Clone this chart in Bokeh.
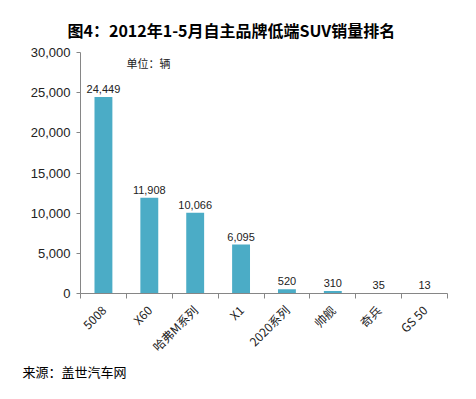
import math
from bokeh.plotting import figure
from bokeh.models import (ColumnDataSource, Range1d, FixedTicker, NumeralTickFormatter,
                          Label, Title)
from bokeh.core.properties import value
from bokeh.embed import file_html
from bokeh.resources import INLINE

categories = ["5008", "X60", "哈弗M系列", "X1", "2020系列", "帅舰", "奇兵", "GS 50"]
sales = [24449, 11908, 10066, 6095, 520, 310, 35, 13]
y_ticks = [0, 5000, 10000, 15000, 20000, 25000, 30000]

title_text = "图4：2012年1-5月自主品牌低端SUV销量排名"
unit_text = "单位：辆"
source_text = "来源：盖世汽车网"

CJK = "Noto Sans CJK SC"
BAR = "#4BACC6"
AXIS = "#868686"
TXT = "#222222"

centers = [i + 0.5 for i in range(len(categories))]
bounds = list(range(len(categories) + 1))

src = ColumnDataSource(dict(
    x=centers,
    top=sales,
    label=[f"{v:,}" for v in sales],
))

p = figure(width=468, height=391, output_backend="svg", toolbar_location=None,
           x_range=Range1d(0, len(categories)), y_range=Range1d(0, 30000),
           min_border_left=80, min_border_right=21, min_border_top=52,
           min_border_bottom=98)
p.outline_line_color = None
p.background_fill_color = "white"
p.border_fill_color = "white"
p.xgrid.grid_line_color = None
p.ygrid.grid_line_color = None

p.title = Title(text=title_text, align="left", offset=-13, standoff=22,
                text_font=CJK, text_font_size="16px", text_font_style="bold",
                text_color="#000000")

p.vbar(x="x", top="top", width=0.39, source=src, fill_color=BAR, line_color=None)
p.text(x="x", y="top", text="label", source=src, text_align="center",
       text_baseline="bottom", y_offset=-4, text_font=value("Liberation Sans"),
       text_font_size="11px", text_color=TXT)

# y axis
ya = p.yaxis[0]
ya.ticker = FixedTicker(ticks=y_ticks)
ya.formatter = NumeralTickFormatter(format="0,0")
ya.axis_line_color = AXIS
ya.major_tick_line_color = AXIS
ya.major_tick_in = 0
ya.major_tick_out = 4
ya.minor_tick_line_color = None
ya.major_label_text_font = "Liberation Sans"
ya.major_label_text_font_size = "13px"
ya.major_label_text_color = TXT
ya.major_label_standoff = 6

# x axis
xa = p.xaxis[0]
xa.ticker = FixedTicker(ticks=centers, minor_ticks=bounds)
xa.major_label_overrides = {c: n for c, n in zip(centers, categories)}
xa.axis_line_color = AXIS
xa.major_tick_line_color = None
xa.minor_tick_line_color = AXIS
xa.minor_tick_in = 0
xa.minor_tick_out = 5
xa.major_label_orientation = math.pi / 4
xa.major_label_text_font = CJK
xa.major_label_text_font_size = "12px"
xa.major_label_text_color = TXT
xa.major_label_standoff = 8

p.add_layout(Label(x=1.48, y=28750, text=unit_text, text_align="center",
                   text_baseline="middle", text_font=CJK, text_font_size="11px",
                   text_color=TXT))
p.add_layout(Title(text=source_text, align="left", offset=-58, standoff=-8,
                   text_font=CJK, text_font_size="13px", text_font_style="normal",
                   text_color="#000000"), "below")

open("out.html", "w").write(file_html(p, INLINE))
